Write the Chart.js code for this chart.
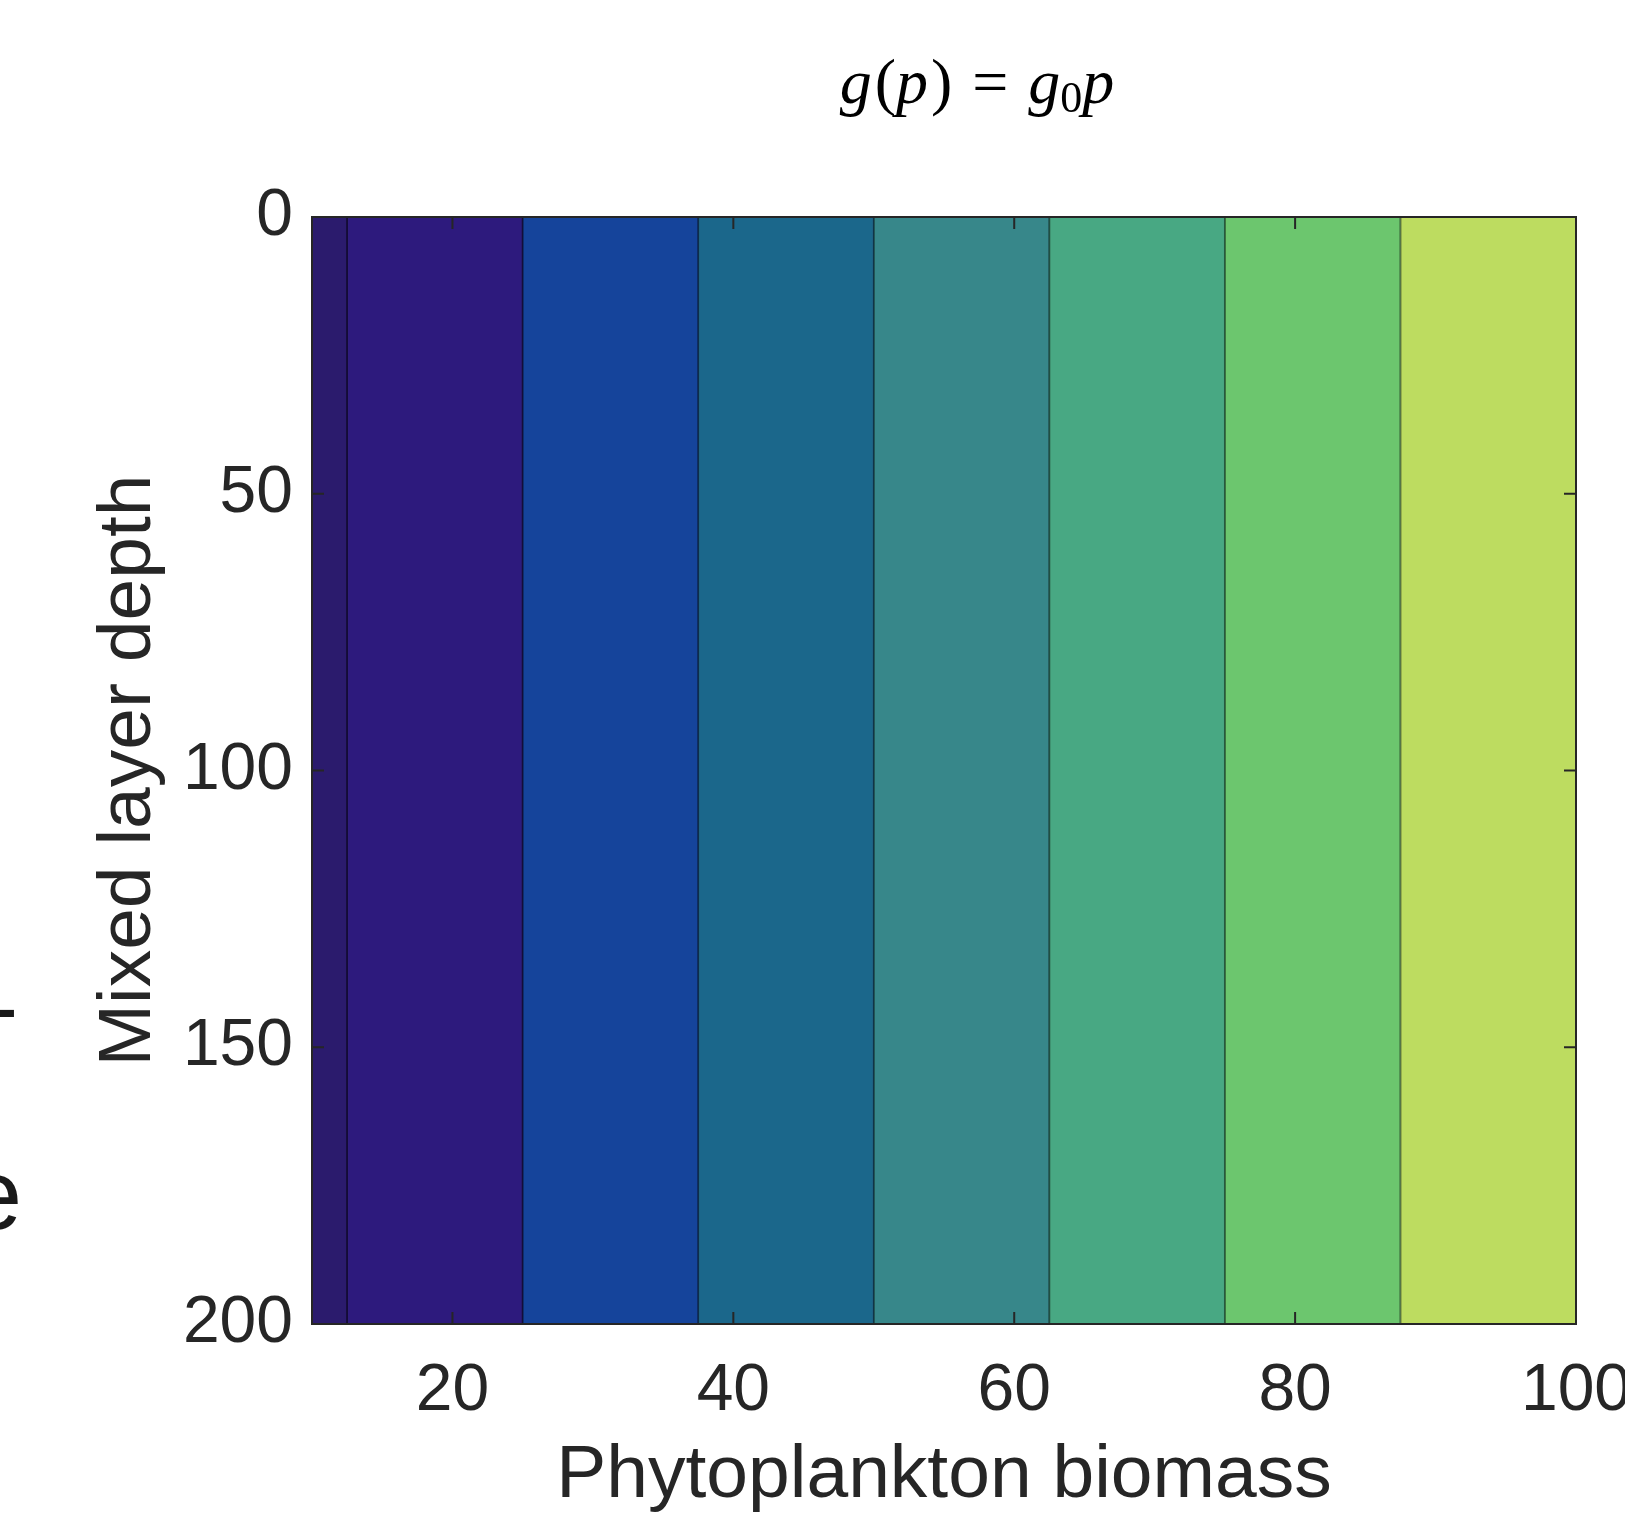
<!DOCTYPE html>
<html>
<head>
<meta charset="utf-8">
<script src="https://cdn.jsdelivr.net/npm/chart.js@4.4.1/dist/chart.umd.min.js"></script>
<style>
  html, body { margin: 0; padding: 0; background: #fff; }
  canvas { display: block; }
</style>
</head>
<body>
<canvas id="contourChart" width="1625" height="1514"></canvas>
<script>
// filled contour bands of g(p) = g0*p, edges in phytoplankton biomass units
const bandEdges = [10, 12.5, 25, 37.5, 50, 62.5, 75, 87.5, 100];
const bandColors = ['#2b1b6d', '#2d1a7d', '#15449b', '#1b678b', '#37878a', '#48a883', '#6cc66e', '#bddc60'];
const lineColors = ['#140d35', '#140c3a', '#0c2452', '#0f3448', '#1d4644', '#255840', '#386638', '#5e6e30'];
const xTicks = [20, 40, 60, 80, 100];
const yTicks = [0, 50, 100, 150, 200];

const axisColor = '#262626';
const sans = '"Liberation Sans", Arial, sans-serif';
const serif = '"Liberation Serif", "Times New Roman", serif';

// MATLAB style box with inward ticks, the LaTeX title and the cropped neighbour text
const matlabAxes = {
  id: 'matlabAxes',
  afterDatasetsDraw(chart) {
    const { ctx, chartArea: a, scales: { x, y } } = chart;
    ctx.save();
    ctx.strokeStyle = axisColor;
    ctx.lineWidth = 2;
    ctx.strokeRect(a.left, a.top, a.right - a.left, a.bottom - a.top);
    ctx.beginPath();
    xTicks.forEach(v => {
      const px = x.getPixelForValue(v);
      ctx.moveTo(px, a.bottom); ctx.lineTo(px, a.bottom - 12);
      ctx.moveTo(px, a.top); ctx.lineTo(px, a.top + 12);
    });
    yTicks.forEach(v => {
      const py = y.getPixelForValue(v);
      ctx.moveTo(a.left, py); ctx.lineTo(a.left + 12, py);
      ctx.moveTo(a.right, py); ctx.lineTo(a.right - 12, py);
    });
    ctx.stroke();
    ctx.restore();
  },
  afterDraw(chart) {
    const { ctx } = chart;
    ctx.save();
    ctx.fillStyle = '#000';
    ctx.textBaseline = 'alphabetic';
    const it = 'italic 64px ' + serif;
    const rm = '64px ' + serif;
    const pieces = [
      { t: 'g', f: it }, { gap: 3 }, { t: '(', f: rm }, { t: 'p', f: it }, { gap: 3 }, { t: ')', f: rm },
      { gap: 20 }, { t: '=', f: rm }, { gap: 20 },
      { t: 'g', f: it }, { t: '0', f: '44px ' + serif, dy: 9 }, { t: 'p', f: it }
    ];
    let total = 0;
    pieces.forEach(p => {
      if (p.gap) { p.w = p.gap; } else { ctx.font = p.f; p.w = ctx.measureText(p.t).width; }
      total += p.w;
    });
    let cx = 977 - total / 2;
    pieces.forEach(p => {
      if (!p.gap) { ctx.font = p.f; ctx.fillText(p.t, cx, 103 + (p.dy || 0)); }
      cx += p.w;
    });
    // text cut off at the left edge of the figure
    ctx.fillStyle = '#1a1a1a';
    ctx.textAlign = 'right';
    ctx.font = '90px ' + sans;
    ctx.fillText('-', 18, 1038);
    ctx.font = '100px ' + sans;
    ctx.fillText('e', 22, 1229);
    ctx.restore();
  }
};

const ctx = document.getElementById('contourChart').getContext('2d');
const contourChart = new Chart(ctx, {
  type: 'bar',
  data: {
    labels: ['depth'],
    datasets: bandColors.map((c, i) => ({
      data: [[bandEdges[i], bandEdges[i + 1]]],
      backgroundColor: c,
      borderColor: lineColors[i],
      borderWidth: { left: 1.3, right: 1.3, top: 0, bottom: 0 },
      borderSkipped: false,
      yAxisID: 'band',
      grouped: false,
      barPercentage: 1,
      categoryPercentage: 1
    }))
  },
  options: {
    indexAxis: 'y',
    responsive: false,
    animation: false,
    layout: { padding: { top: 217, right: 49, left: 0, bottom: 0 } },
    plugins: { legend: { display: false }, tooltip: { enabled: false }, title: { display: false } },
    scales: {
      x: {
        type: 'linear',
        position: 'bottom',
        offset: false,
        min: bandEdges[0],
        max: bandEdges[bandEdges.length - 1],
        grid: { display: false, drawTicks: false, offset: false },
        border: { display: true, color: axisColor, width: 2 },
        afterBuildTicks: s => { s.ticks = xTicks.map(v => ({ value: v })); },
        afterFit: s => { s.height = 190; s.paddingLeft = 0; s.paddingRight = 0; },
        ticks: { color: axisColor, padding: 28, maxRotation: 0, font: { family: sans, size: 66 } },
        title: {
          display: true, text: 'Phytoplankton biomass', color: axisColor,
          font: { family: sans, size: 75 }, padding: { top: 0, bottom: -7 }
        }
      },
      band: { type: 'category', axis: 'y', display: false, offset: true },
      y: {
        type: 'linear',
        position: 'left',
        reverse: true,
        offset: false,
        min: yTicks[0],
        max: yTicks[yTicks.length - 1],
        grid: { display: false, drawTicks: false, offset: false },
        border: { display: true, color: axisColor, width: 2 },
        afterBuildTicks: s => { s.ticks = yTicks.map(v => ({ value: v })); },
        afterFit: s => { s.width = 312; s.paddingTop = 0; s.paddingBottom = 0; },
        ticks: { color: axisColor, padding: 19, font: { family: sans, size: 66 } },
        title: {
          display: true, text: 'Mixed layer depth', color: axisColor,
          font: { family: sans, size: 75 }, padding: { top: 84, bottom: 0 }
        }
      }
    }
  },
  plugins: [matlabAxes]
});
</script>
</body>
</html>
